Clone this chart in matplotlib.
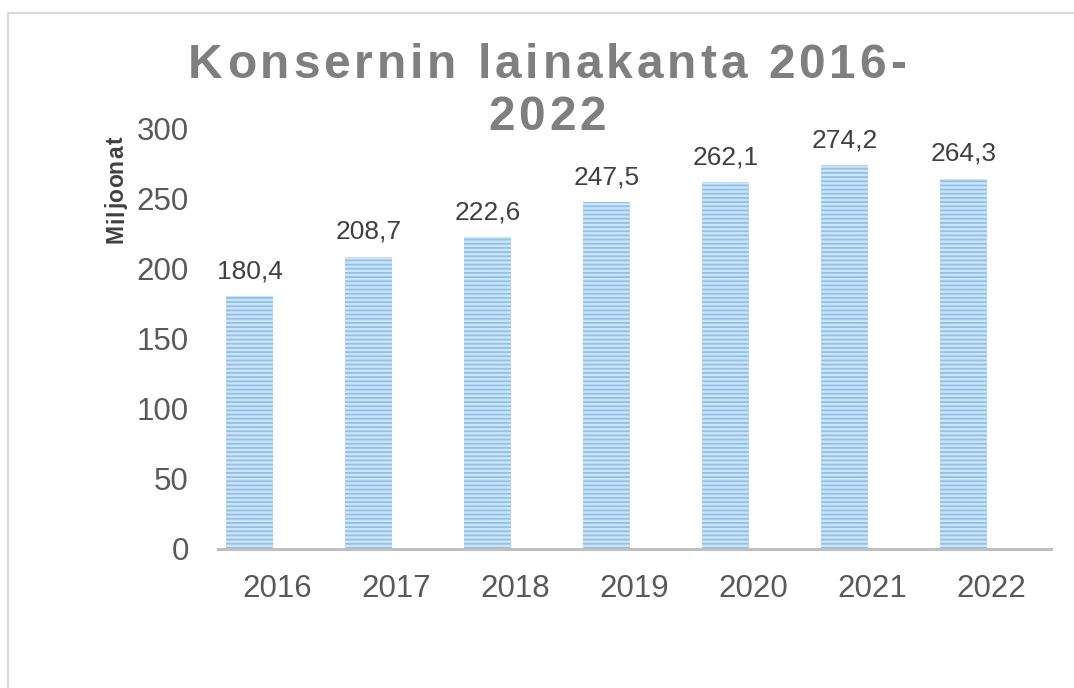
import matplotlib
matplotlib.use("Agg")
import matplotlib.pyplot as plt
from matplotlib.lines import Line2D
from matplotlib.font_manager import FontProperties

years = ["2016", "2017", "2018", "2019", "2020", "2021", "2022"]
values = [180.4, 208.7, 222.6, 247.5, 262.1, 274.2, 264.3]
value_labels = ["180,4", "208,7", "222,6", "247,5", "262,1", "274,2", "264,3"]
yticks = [0, 50, 100, 150, 200, 250, 300]
title_lines = ["Konsernin lainakanta 2016-", "2022"]
ylabel = "Miljoonat"

plt.rcParams['font.family'] = ['Liberation Sans', 'DejaVu Sans']
plt.rcParams['hatch.linewidth'] = 1.3

W, H = 1074, 688
fig = plt.figure(figsize=(W / 100, H / 100), dpi=100)

# chart border (light gray, clipped at right/bottom)
fig.add_artist(Line2D([8 / W, 1.0], [1 - 13 / H, 1 - 13 / H], color='#d9d9d9', lw=1.5))
fig.add_artist(Line2D([8 / W, 8 / W], [1 - 13 / H, 0.0], color='#d9d9d9', lw=1.5))

ax = fig.add_axes([218 / W, 1 - 549 / H, (1051 - 218) / W, (549 - 129) / H])
x = list(range(len(years)))
shift = -0.235  # bars sit left of the category centre in the reference
bx = [xi + shift for xi in x]
ax.bar(bx, values, width=0.39, color='#cde3f6', edgecolor='#8fc2ea',
       linewidth=0, hatch='----', zorder=2)
ax.set_xlim(-0.5, len(years) - 0.5)
ax.set_ylim(0, 300)
ax.set_yticks(yticks)
ax.set_yticklabels([str(v) for v in yticks])
ax.set_xticks(x)
ax.set_xticklabels(years)
ax.tick_params(axis='both', length=0, labelsize=22.5, labelcolor='#595959')
ax.tick_params(axis='y', pad=21)
ax.tick_params(axis='x', pad=18)
for s in ['top', 'right', 'left']:
    ax.spines[s].set_visible(False)
ax.spines['bottom'].set_color('#bfbfbf')
ax.spines['bottom'].set_linewidth(2.2)
ax.spines['bottom'].set_zorder(3)

for xi, v, lab in zip(bx, values, value_labels):
    ax.annotate(lab, (xi, v), xytext=(0, 13), textcoords='offset points',
                ha='center', va='baseline', fontsize=19, color='#404040')

renderer = fig.canvas.get_renderer()


def make_adv(prop):
    def wpx(s):
        w, h, d = renderer.get_text_width_height_descent(s, prop, ismath=False)
        return w
    base = wpx("II")
    return lambda c: wpx("I" + c + "I") - base


# y label, rotated, slight letter spacing
lprop = FontProperties(family='Liberation Sans', weight='bold', size=16.5)
ladv = make_adv(lprop)
lsp = 0.8
ladvs = [ladv(c) for c in ylabel]
ltotal = sum(ladvs) + lsp * (len(ylabel) - 1)
cy = 190 + ltotal / 2
for c, a in zip(ylabel, ladvs):
    fig.text(123 / W, 1 - cy / H, c, fontproperties=lprop, color='#404040',
             rotation=90, rotation_mode='anchor', ha='left', va='baseline')
    cy -= a + lsp

# title with letter spacing
tprop = FontProperties(family='Liberation Sans', weight='bold', size=34.5)
tadv = make_adv(tprop)
spacing = 3.9
center_x = 547
baselines = [78, 130]
for line, by in zip(title_lines, baselines):
    advs = [tadv(c) for c in line]
    total = sum(advs) + spacing * (len(line) - 1)
    cx = center_x - total / 2
    for c, a in zip(line, advs):
        if c != ' ':
            fig.text(cx / W, 1 - by / H, c, fontproperties=tprop, color='#7f7f7f',
                     ha='left', va='baseline')
        cx += a + spacing

fig.savefig('out.png', dpi=100)
